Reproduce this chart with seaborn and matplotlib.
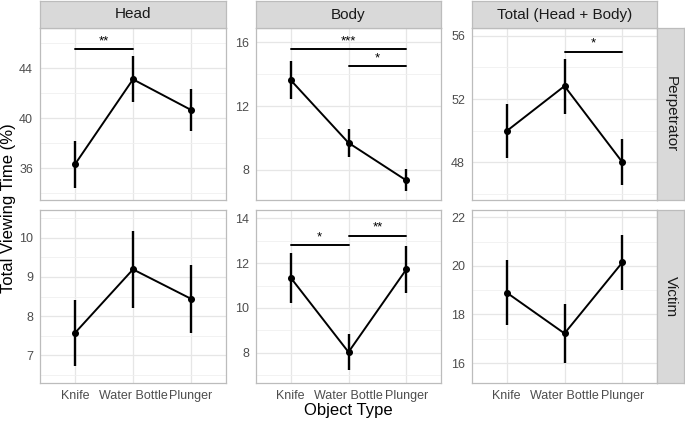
import matplotlib
matplotlib.use("Agg")
import matplotlib.pyplot as plt
from matplotlib.ticker import FixedLocator
import numpy as np
import pandas as pd
import seaborn as sns

sns.set_theme(style="white")
plt.rcParams["font.family"] = ["Liberation Sans", "DejaVu Sans"]

objects = ["Knife", "Water Bottle", "Plunger"]
regions = ["Head", "Body", "Total (Head + Body)"]
roles = ["Perpetrator", "Victim"]

# means and standard errors
perp_head_mean = [36.3, 43.1, 40.65]
perp_head_se = [1.9, 1.83, 1.7]
perp_body_mean = [13.63, 9.69, 7.33]
perp_body_se = [1.2, 0.88, 0.69]
perp_total_mean = [49.97, 52.82, 48.0]
perp_total_se = [1.72, 1.74, 1.45]

vict_head_mean = [7.57, 9.19, 8.44]
vict_head_se = [0.84, 0.98, 0.87]
vict_body_mean = [11.35, 8.03, 11.72]
vict_body_se = [1.11, 0.82, 1.05]
vict_total_mean = [18.9, 17.22, 20.14]
vict_total_se = [1.34, 1.23, 1.12]

# significance brackets: (role, region, from, to, height, label)
sig_brackets = [
    ("Perpetrator", "Head", "Knife", "Water Bottle", 45.52, "**"),
    ("Perpetrator", "Body", "Knife", "Plunger", 15.58, "***"),
    ("Perpetrator", "Body", "Water Bottle", "Plunger", 14.49, "*"),
    ("Perpetrator", "Total (Head + Body)", "Water Bottle", "Plunger", 54.99, "*"),
    ("Victim", "Body", "Knife", "Water Bottle", 12.8, "*"),
    ("Victim", "Body", "Water Bottle", "Plunger", 13.22, "**"),
]

means = {
    ("Perpetrator", "Head"): (perp_head_mean, perp_head_se),
    ("Perpetrator", "Body"): (perp_body_mean, perp_body_se),
    ("Perpetrator", "Total (Head + Body)"): (perp_total_mean, perp_total_se),
    ("Victim", "Head"): (vict_head_mean, vict_head_se),
    ("Victim", "Body"): (vict_body_mean, vict_body_se),
    ("Victim", "Total (Head + Body)"): (vict_total_mean, vict_total_se),
}
rows = []
for (role, region), (m, s) in means.items():
    for obj, mv, sv in zip(objects, m, s):
        rows.append({"role": role, "region": region, "object": obj, "mean": mv, "se": sv})
df = pd.DataFrame(rows)

# axis ranges / ticks per panel (layout)
ylims = {
    ("Perpetrator", "Head"): (33.46, 47.2),
    ("Perpetrator", "Body"): (6.1, 16.9),
    ("Perpetrator", "Total (Head + Body)"): (45.6, 56.5),
    ("Victim", "Head"): (6.3, 10.7),
    ("Victim", "Body"): (6.65, 14.37),
    ("Victim", "Total (Head + Body)"): (15.18, 22.3),
}
yticks = {
    ("Perpetrator", "Head"): [36, 40, 44],
    ("Perpetrator", "Body"): [8, 12, 16],
    ("Perpetrator", "Total (Head + Body)"): [48, 52, 56],
    ("Victim", "Head"): [7, 8, 9, 10],
    ("Victim", "Body"): [8, 10, 12, 14],
    ("Victim", "Total (Head + Body)"): [16, 18, 20, 22],
}

W, H = 685, 421
fig = plt.figure(figsize=(W / 100, H / 100), dpi=100)

col_x = [(40, 226), (256, 441), (472, 657)]
row_y = [(28, 200), (210, 383)]
strip_top = 1
strip_right = 684

border = "#bcbcbc"
strip_fill = "#d9d9d9"
grid_major = "#e6e6e6"
tick_col = "#4d4d4d"


def frac_box(x0, y0, x1, y1):
    return [x0 / W, 1 - y1 / H, (x1 - x0) / W, (y1 - y0) / H]


for ri, role in enumerate(roles):
    for ci, region in enumerate(regions):
        x0, x1 = col_x[ci]
        y0, y1 = row_y[ri]
        ax = fig.add_axes(frac_box(x0, y0, x1, y1))
        sub = df[(df["role"] == role) & (df["region"] == region)]
        xs = np.arange(len(objects))
        ax.vlines(xs, sub["mean"] - sub["se"], sub["mean"] + sub["se"],
                  color="black", lw=1.7, zorder=3)
        sns.pointplot(data=sub, x="object", y="mean", order=objects,
                      color="black", errorbar=None, markersize=4,
                      linewidth=1.4, ax=ax, zorder=4)
        key = (role, region)
        lo, hi = ylims[key]
        ax.set_ylim(lo, hi)
        ax.set_xlim(-0.6, 2.6)
        maj = yticks[key]
        step = maj[1] - maj[0]
        ax.yaxis.set_major_locator(FixedLocator(maj))
        minor = [v + step / 2 for v in [maj[0] - step] + maj]
        ax.yaxis.set_minor_locator(FixedLocator(minor))
        ax.grid(True, which="major", color=grid_major, lw=0.9, zorder=0)
        ax.grid(True, which="minor", axis="y", color="#f0f0f0", lw=0.6, zorder=0)
        ax.set_axisbelow(True)
        for sp in ax.spines.values():
            sp.set_color(border)
            sp.set_linewidth(0.9)
        ax.tick_params(axis="both", which="major", length=3, width=0.8,
                       color=border, labelcolor=tick_col, labelsize=9, pad=2)
        ax.tick_params(axis="y", which="minor", length=0)
        ax.set_xlabel("")
        ax.set_ylabel("")
        if ri == 0:
            ax.set_xticklabels([])
        else:
            ax.set_xticks(xs)
            ax.set_xticklabels(objects)

        for b_role, b_region, a, b, yv, lab in sig_brackets:
            if b_role == role and b_region == region:
                xa, xb = objects.index(a), objects.index(b)
                ax.plot([xa, xb], [yv, yv], color="black", lw=1.4, zorder=5)
                ax.annotate(lab, ((xa + xb) / 2, yv), xytext=(0, 1.5),
                            textcoords="offset points", ha="center",
                            va="bottom", fontsize=9.5, color="black")

        # top strips
        if ri == 0:
            sax = fig.add_axes(frac_box(x0, strip_top, x1, y0))
            sax.set_facecolor(strip_fill)
            sax.set_xticks([])
            sax.set_yticks([])
            for sp in sax.spines.values():
                sp.set_color(border)
                sp.set_linewidth(0.9)
            sax.text(0.5, 0.5, region, ha="center", va="center",
                     fontsize=11, color="#1a1a1a", transform=sax.transAxes)

    # right strips
    y0, y1 = row_y[ri]
    rax = fig.add_axes(frac_box(col_x[2][1], y0, strip_right, y1))
    rax.set_facecolor(strip_fill)
    rax.set_xticks([])
    rax.set_yticks([])
    for sp in rax.spines.values():
        sp.set_color(border)
        sp.set_linewidth(0.9)
    rax.text(0.5, 0.5, role, ha="center", va="center", rotation=-90,
             fontsize=11, color="#1a1a1a", transform=rax.transAxes)

fig.text(348.5 / W, 1 - 411 / H, "Object Type", ha="center", va="center",
         fontsize=12, color="black")
fig.text(8.5 / W, 1 - 208 / H, "Total Viewing Time (%)", ha="center",
         va="center", rotation=90, fontsize=12, color="black")

fig.savefig("out.png", dpi=100, facecolor="white")
